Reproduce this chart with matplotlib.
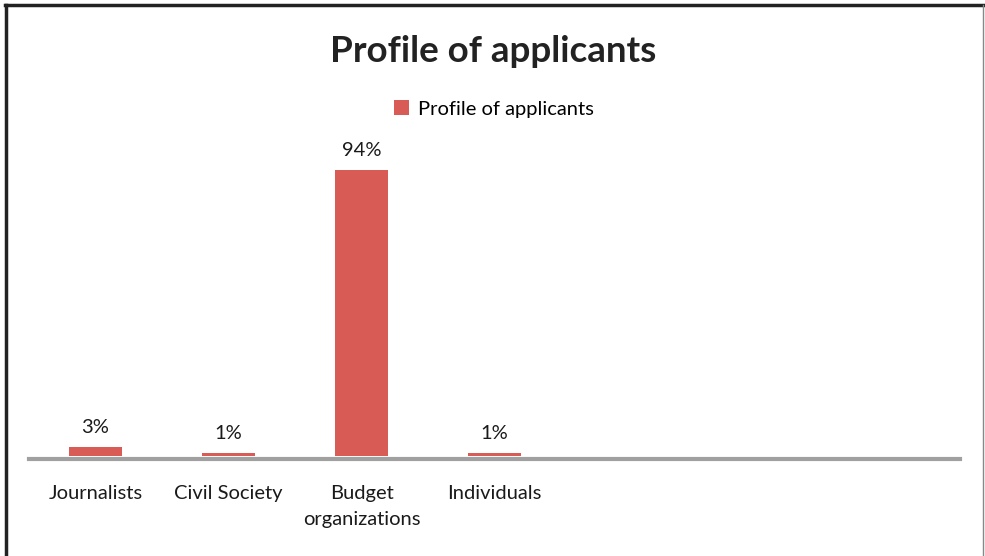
import matplotlib
matplotlib.use("Agg")
import matplotlib.pyplot as plt
from matplotlib.lines import Line2D

categories = ["Journalists", "Civil Society", "Budget\norganizations", "Individuals", "", "", ""]
values = [3, 1, 94, 1, None, None, None]
labels = ["3%", "1%", "94%", "1%", "", "", ""]
series_name = "Profile of applicants"
title = "Profile of applicants"

plt.rcParams['font.family'] = ['Lato', 'DejaVu Sans']

fig = plt.figure(figsize=(9.85, 5.56), dpi=100)
ax = fig.add_axes([29/985, 1-456/556, 931/985, 304/556])

for s in ["left", "right", "top"]:
    ax.spines[s].set_visible(False)
ax.spines["bottom"].set_position(("outward", 2))
ax.spines["bottom"].set_color("#A0A0A0")
ax.spines["bottom"].set_linewidth(3)
ax.spines["bottom"].set_zorder(1)

xs = list(range(len(categories)))
bar_x = [x for x, v in zip(xs, values) if v is not None]
bar_v = [v for v in values if v is not None]
bars = ax.bar(bar_x, bar_v, width=0.4, color="#D95B55", label=series_name, zorder=2)
for x, v, l in zip(xs, values, labels):
    if v is not None:
        ax.annotate(l, (x, v), xytext=(0, 8), textcoords="offset points",
                    ha="center", va="bottom", fontsize=14.5, color="#1a1a1a")

ax.set_xlim(-0.5, len(categories) - 0.5)
ax.set_ylim(0, 100)
ax.set_xticks(xs)
ax.set_xticklabels(categories, fontsize=14.5, color="#1a1a1a", linespacing=1.65, va="top")
ax.tick_params(axis="x", length=0, pad=19)
ax.set_yticks([])

fig.text(493/985, 1-52/556, title, ha="center", va="center", fontsize=26.5,
         fontweight="bold", color="#222222")

fig.legend(handles=[bars], labels=[series_name], loc="center", bbox_to_anchor=(494/985, 1-109/556),
           frameon=False, fontsize=14.5, handlelength=0.7, handleheight=0.7, handletextpad=0.45)

# figure border
fig.add_artist(Line2D([6/985, 6/985], [0, 1-5/556], transform=fig.transFigure, color="#222222", lw=2.5))
fig.add_artist(Line2D([5/985, 1], [1-5/556, 1-5/556], transform=fig.transFigure, color="#222222", lw=2.5))
fig.add_artist(Line2D([983/985, 983/985], [0, 1-5/556], transform=fig.transFigure, color="#888888", lw=1))

fig.savefig("out.png", dpi=100)
